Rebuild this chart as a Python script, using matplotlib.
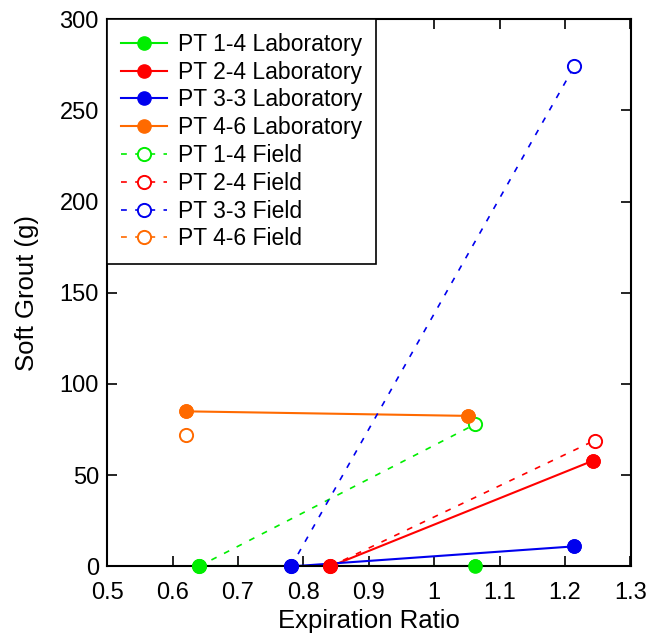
import matplotlib.pyplot as plt
import numpy as np

plt.rcParams['font.family'] = ['Liberation Sans', 'DejaVu Sans']

names = ["PT 1-4", "PT 2-4", "PT 3-3", "PT 4-6"]
colors = ["#00ee00", "#ff0000", "#0000ee", "#ff6a00"]

# laboratory: expiration ratio, soft grout (g)
lab_x = [[0.64, 1.063], [0.841, 1.243], [0.781, 1.214], [0.62, 1.052]]
lab_y = [[0, 0], [0, 58], [0, 11], [85, 82.5]]

# field
field_x = [[0.64, 1.063], [0.841, 1.245], [0.781, 1.214], [0.62]]
field_y = [[0, 78], [0, 69], [0, 274], [72]]

fig = plt.figure(figsize=(6.5, 6.35), dpi=100)
ax = fig.add_axes([0.165, 0.108, 0.805, 0.862])

for i in range(4):
    ax.plot(lab_x[i], lab_y[i], '-', color=colors[i], lw=1.5, marker='o', ms=9.5,
            label=names[i] + " Laboratory", zorder=2)
    # markers again, above the spines
    ax.plot(lab_x[i], lab_y[i], 'o', color=colors[i], ms=9.5, clip_on=False, zorder=4)
for i in range(4):
    ax.plot(field_x[i], field_y[i], '--', color=colors[i], lw=1.2, dashes=(3.5, 5),
            marker='o', ms=9.5, mfc='white', mew=1.4,
            label=names[i] + " Field", clip_on=False, zorder=3)

ax.set_xlim(0.5, 1.3)
ax.set_ylim(0, 300)
ax.set_xticks(np.arange(0.5, 1.31, 0.1))
ax.set_xticklabels(["0.5", "0.6", "0.7", "0.8", "0.9", "1", "1.1", "1.2", "1.3"])
ax.set_yticks(np.arange(0, 301, 50))
ax.tick_params(direction='in', top=True, right=True, length=7, width=1.2, labelsize=17)
ax.tick_params(axis='x', pad=11)
ax.tick_params(axis='y', pad=6)
for s in ax.spines.values():
    s.set_linewidth(1.5)
ax.set_xlabel("Expiration Ratio", fontsize=18.5, labelpad=4)
ax.set_ylabel("Soft Grout (g)", fontsize=18.5, labelpad=15)

leg = ax.legend(loc='upper left', fontsize=16.5, handlelength=2.0, borderaxespad=0,
                fancybox=False, framealpha=1, edgecolor='black', labelspacing=0.21,
                borderpad=0.6, handletextpad=0.5)
leg.get_frame().set_linewidth(1.2)
leg.set_zorder(5)

fig.savefig("out.png", dpi=100)
